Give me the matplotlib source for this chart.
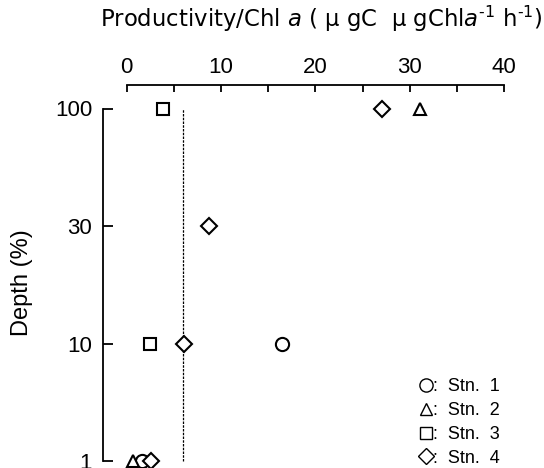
import matplotlib
matplotlib.use("Agg")
import matplotlib.pyplot as plt
import numpy as np
from matplotlib.lines import Line2D
from matplotlib.ticker import MultipleLocator

plt.rcParams['font.family'] = ['Liberation Sans', 'DejaVu Sans']
plt.rcParams['mathtext.fontset'] = 'custom'
plt.rcParams['mathtext.rm'] = 'DejaVu Sans'
plt.rcParams['mathtext.it'] = 'DejaVu Sans:italic'

depth_labels = ['100', '30', '10', '1']
stn1 = [np.nan, np.nan, 16.5, 1.6]
stn2 = [31.1, np.nan, np.nan, 0.7]
stn3 = [3.8, np.nan, 2.5, np.nan]
stn4 = [27.1, 8.7, 6.1, 2.6]
ref_value = 6.0
legend_labels = [':  Stn.  1', ':  Stn.  2', ':  Stn.  3', ':  Stn.  4']
x_ticks = [0, 10, 20, 30, 40]

ypos = np.arange(len(depth_labels))[::-1]  # 100 at top

fig = plt.figure(figsize=(5.44, 4.68), dpi=100)
ax = fig.add_axes([126.7/544, 1-461/468, 377.3/544, 376/468])
ax.set_xlim(0, 40)
ax.set_ylim(0, 3.2)

series = [(stn1, 'o', 9.5), (stn2, '^', 9), (stn3, 's', 8), (stn4, 'D', 8)]
for vals, m, ms in series:
    ax.plot(vals, ypos, linestyle='none', marker=m, markersize=ms,
            markerfacecolor='white', markeredgecolor='black',
            markeredgewidth=1.5, clip_on=False, zorder=3)

ax.plot([ref_value, ref_value], [ypos.min(), ypos.max()], color='black',
        linestyle=(0, (2, 1)), linewidth=0.9, zorder=2, clip_on=False)

# spines
ax.spines['right'].set_visible(False)
ax.spines['bottom'].set_visible(False)
ax.spines['left'].set_position(('data', -2.5))
ax.spines['left'].set_bounds(ypos.min(), ypos.max())
for s in ['left', 'top']:
    ax.spines[s].set_linewidth(1.3)

ax.xaxis.set_ticks_position('top')
ax.xaxis.set_label_position('top')
ax.set_xticks(x_ticks)
ax.xaxis.set_minor_locator(MultipleLocator(5))
ax.tick_params(axis='x', which='both', direction='in', length=5, width=1.3,
               labelsize=16, pad=5, top=True, bottom=False)

ax.set_yticks(ypos)
ax.set_yticklabels(depth_labels)
ax.tick_params(axis='y', direction='in', length=7, width=1.3,
               labelsize=16, pad=8)

fig.text(22/544, 1-283/468, 'Depth (%)', rotation=90, ha='center', va='center',
         fontsize=17)
fig.text(100/544, 1-27/468,
         r'Productivity/Chl $\mathit{a}$ ( μ gC  μ gChl$\mathit{a}^{\text{-1}}$ h$^{\text{-1}}$)',
         ha='left', va='baseline', fontsize=16.4, family='DejaVu Sans')

handles = [Line2D([], [], linestyle='none', marker=m, markersize=ms,
                  markerfacecolor='white', markeredgecolor='black',
                  markeredgewidth=1.0) for _, m, ms in series]
fig.legend(handles, legend_labels, loc='lower right',
           bbox_to_anchor=(507/544, -6/468), frameon=False, fontsize=13,
           handlelength=0.8, handletextpad=0.0, labelspacing=0.38,
           borderaxespad=0)

fig.savefig('out.png', dpi=100)
